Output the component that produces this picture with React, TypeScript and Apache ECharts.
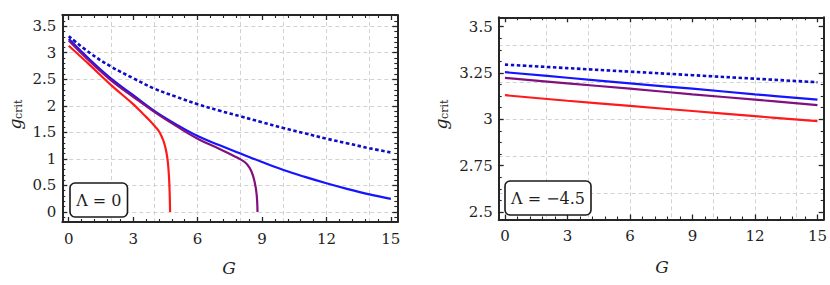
import React, { useEffect, useRef } from "react";
import * as echarts from "echarts";

// ---------- data ----------
const leftDottedG = [0, 1, 2, 3, 4, 5, 6, 7, 8, 9, 10, 11, 12, 13, 14, 15];
const leftDottedY = [3.31, 2.99, 2.73, 2.52, 2.32, 2.17, 2.03, 1.91, 1.8, 1.69, 1.58, 1.48, 1.38, 1.29, 1.2, 1.12];

const leftBlueG = [0, 1, 2, 3, 4, 5, 6, 7, 8, 9, 10, 11, 12, 13, 14, 15];
const leftBlueY = [3.26, 2.86, 2.5, 2.2, 1.9, 1.65, 1.43, 1.26, 1.1, 0.94, 0.79, 0.66, 0.54, 0.43, 0.33, 0.245];

const leftPurpleG = [0, 1, 2, 3, 4, 5, 6, 7, 7.5, 8, 8.3, 8.5, 8.65, 8.75, 8.79];
const leftPurpleY = [3.23, 2.83, 2.47, 2.17, 1.88, 1.62, 1.38, 1.19, 1.09, 0.99, 0.9, 0.77, 0.58, 0.33, 0];

const leftRedG = [0, 1, 2, 3, 3.5, 3.8, 4.0, 4.2, 4.35, 4.45, 4.55, 4.62, 4.67, 4.7, 4.72];
const leftRedY = [3.13, 2.76, 2.38, 2.03, 1.83, 1.71, 1.62, 1.52, 1.4, 1.29, 1.12, 0.92, 0.65, 0.35, 0];

const rightG = [0, 3, 6, 9, 12, 15];
const rightDottedY = [3.295, 3.276, 3.257, 3.238, 3.219, 3.2];
const rightBlueY = [3.254, 3.224, 3.194, 3.165, 3.135, 3.106];
const rightPurpleY = [3.223, 3.194, 3.165, 3.135, 3.106, 3.077];
const rightRedY = [3.13, 3.1, 3.072, 3.045, 3.017, 2.99];

// ticks / grid lines
const xMajorTicks = [0, 3, 6, 9, 12, 15];
const xMinorTicks = [0.6, 1.2, 1.8, 2.4, 3.6, 4.2, 4.8, 5.4, 6.6, 7.2, 7.8, 8.4, 9.6, 10.2, 10.8, 11.4, 12.6, 13.2, 13.8, 14.4];
const xGridLines = [2, 4, 6, 8, 10, 12, 14];

const leftYMajor = [0, 0.5, 1, 1.5, 2, 2.5, 3, 3.5];
const leftYMinor = [-0.1, 0.1, 0.2, 0.3, 0.4, 0.6, 0.7, 0.8, 0.9, 1.1, 1.2, 1.3, 1.4, 1.6, 1.7, 1.8, 1.9, 2.1, 2.2, 2.3, 2.4, 2.6, 2.7, 2.8, 2.9, 3.1, 3.2, 3.3, 3.4, 3.6, 3.7];
const leftYGrid = [0, 0.5, 1, 1.5, 2, 2.5, 3, 3.5];

const rightYMajor = [2.5, 2.75, 3, 3.25, 3.5];
const rightYMinor = [2.5625, 2.625, 2.6875, 2.8125, 2.875, 2.9375, 3.0625, 3.125, 3.1875, 3.3125, 3.375, 3.4375];
const rightYGrid = [2.6, 2.8, 3.0, 3.2, 3.4];

const FONT = "DejaVu Serif";
const AX = "#262626";
const RED = "#ff1a1a";
const BLUE = "#1414ff";
const PURPLE = "#80107f";
const DARKBLUE = "#0c0cc4";

const zip = (g: number[], y: number[]) => g.map((v, i) => [v, y[i]]);

function makeAxes(dim: "x" | "y", gridIndex: number, min: number, max: number, major: number[], minor: number[], grid: number[]) {
  const pos1 = dim === "x" ? "bottom" : "left";
  const pos2 = dim === "x" ? "top" : "right";
  const base: any = {
    type: "value",
    gridIndex,
    min,
    max,
    axisLabel: { show: false },
    splitLine: { show: false },
    axisLine: { show: false, onZero: false },
    axisTick: { show: false },
    axisPointer: { show: false },
  };
  const line = { show: true, onZero: false, lineStyle: { color: AX, width: 2 } };
  const majT = { show: true, inside: true, length: 5, customValues: major, lineStyle: { color: AX, width: 1.3 } };
  const minT = { show: true, inside: true, length: 3, customValues: minor, lineStyle: { color: AX, width: 1.1 } };
  return [
    {
      ...base,
      position: pos1,
      axisLine: line,
      axisTick: majT,
      axisLabel: { show: true, customValues: major, margin: dim === "x" ? 9 : 6, fontFamily: FONT, fontSize: 15, color: "#1e1e1e" },
    },
    { ...base, position: pos1, axisTick: minT },
    { ...base, position: pos2, axisLine: line, axisTick: majT },
    { ...base, position: pos2, axisTick: minT },
    {
      ...base,
      position: pos1,
      axisTick: { show: false, customValues: grid },
      splitLine: { show: true, lineStyle: { color: "#d2d2d2", type: [4, 3], width: 1 } },
    },
  ];
}

function line(name: string, data: number[][], color: string, axisIdx: number, dotted = false) {
  return {
    name,
    type: "line",
    xAxisIndex: axisIdx,
    yAxisIndex: axisIdx,
    data,
    showSymbol: false,
    symbol: "none",
    smooth: 0.4,
    lineStyle: dotted ? { color, width: 2.6, type: [3.5, 2.5] } : { color, width: 2.2 },
    z: dotted ? 3 : 2,
  };
}

function yTitle(x: number, y: number) {
  return {
    type: "group",
    x,
    y,
    rotation: Math.PI / 2,
    children: [
      { type: "text", x: -6, y: 0, style: { text: "g", fontStyle: "italic", fontSize: 17, fontFamily: FONT, fill: "#1e1e1e", align: "center", verticalAlign: "middle" } },
      { type: "text", x: -1, y: 3, style: { text: "crit", fontSize: 11, fontFamily: FONT, fill: "#1e1e1e", align: "left", verticalAlign: "middle" } },
    ],
  };
}

export default function App() {
  const ref = useRef<HTMLDivElement>(null);
  useEffect(() => {
    if (!ref.current) return;
    const chart = echarts.init(ref.current, undefined, { renderer: "svg" });
    const option: any = {
      animation: false,
      backgroundColor: "#ffffff",
      textStyle: { fontFamily: FONT },
      grid: [
        { left: 62.3, top: 15, width: 335, height: 207 },
        { left: 498.7, top: 17.3, width: 326, height: 202.2 },
      ],
      xAxis: [
        ...makeAxes("x", 0, -0.3, 15.3, xMajorTicks, xMinorTicks, xGridLines),
        ...makeAxes("x", 1, -0.3, 15.3, xMajorTicks, xMinorTicks, xGridLines),
      ],
      yAxis: [
        ...makeAxes("y", 0, -0.19, 3.71, leftYMajor, leftYMinor, leftYGrid),
        ...makeAxes("y", 1, 2.46, 3.55, rightYMajor, rightYMinor, rightYGrid),
      ],
      series: [
        line("L dotted", zip(leftDottedG, leftDottedY), DARKBLUE, 0, true),
        line("L blue", zip(leftBlueG, leftBlueY), BLUE, 0),
        line("L purple", zip(leftPurpleG, leftPurpleY), PURPLE, 0),
        line("L red", zip(leftRedG, leftRedY), RED, 0),
        line("R dotted", zip(rightG, rightDottedY), DARKBLUE, 5, true),
        line("R blue", zip(rightG, rightBlueY), BLUE, 5),
        line("R purple", zip(rightG, rightPurpleY), PURPLE, 5),
        line("R red", zip(rightG, rightRedY), RED, 5),
      ],
      graphic: [
        { type: "rect", z: 100, shape: { x: 70, y: 183, width: 57.5, height: 34, r: 5 }, style: { fill: "#fff", stroke: "#1a1a1a", lineWidth: 1.6 } },
        { type: "text", z: 101, x: 98.8, y: 200, style: { text: "Λ = 0", fontSize: 16, fontFamily: FONT, fill: "#1e1e1e", align: "center", verticalAlign: "middle" } },
        { type: "rect", z: 100, shape: { x: 505, y: 181, width: 86, height: 34, r: 5 }, style: { fill: "#fff", stroke: "#1a1a1a", lineWidth: 1.6 } },
        { type: "text", z: 101, x: 548, y: 198, style: { text: "Λ = −4.5", fontSize: 16, fontFamily: FONT, fill: "#1e1e1e", align: "center", verticalAlign: "middle" } },
        { type: "text", z: 101, x: 229, y: 268, style: { text: "G", fontStyle: "italic", fontSize: 17, fontFamily: FONT, fill: "#1e1e1e", align: "center", verticalAlign: "middle" } },
        { type: "text", z: 101, x: 662, y: 267, style: { text: "G", fontStyle: "italic", fontSize: 17, fontFamily: FONT, fill: "#1e1e1e", align: "center", verticalAlign: "middle" } },
        yTitle(15, 118),
        yTitle(441, 118),
      ],
    };
    chart.setOption(option);
    return () => chart.dispose();
  }, []);
  return <div ref={ref} style={{ position: "fixed", left: 0, top: 0, width: 830, height: 285, background: "#fff" }} />;
}
